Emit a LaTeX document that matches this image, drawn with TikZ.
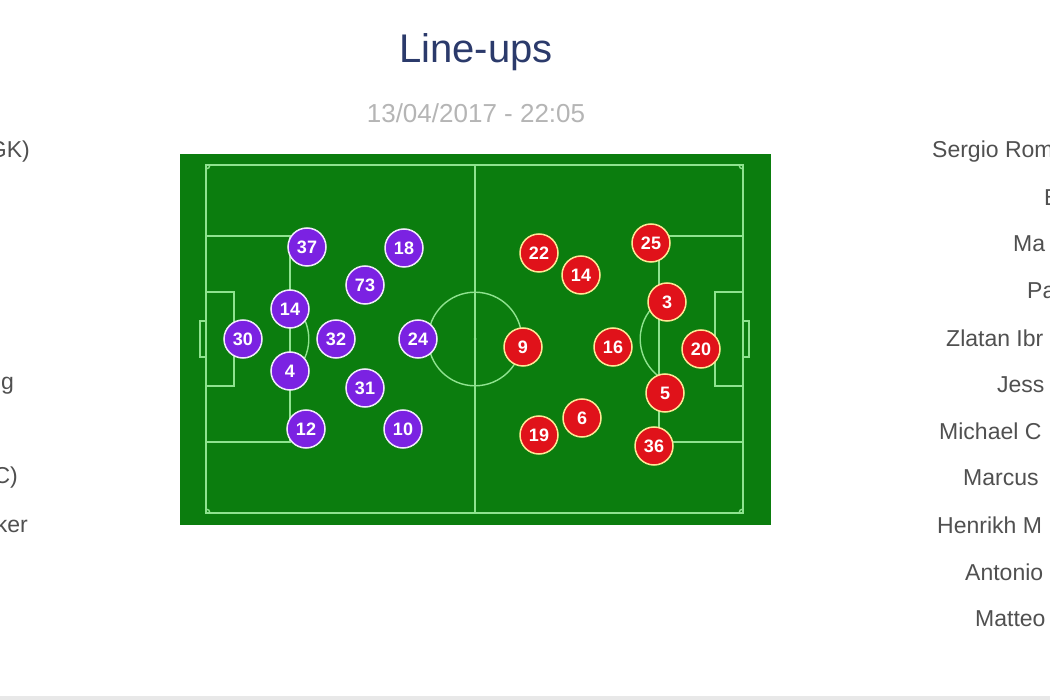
\documentclass[tikz,border=0pt]{standalone}
\usepackage{fontspec}
\setmainfont{Liberation Sans}
\definecolor{pitchgreen}{HTML}{0B7D0E}
\definecolor{pitchline}{HTML}{8FE38F}
\definecolor{homepurple}{HTML}{7B22E2}
\definecolor{awayred}{HTML}{E0121A}
\definecolor{titlenavy}{HTML}{2B3A6B}
\definecolor{dategrey}{HTML}{B5B5B5}
\definecolor{namegrey}{HTML}{505050}
\tikzset{
  line/.style={draw=pitchline,line width=1.4pt},
  player/.style={circle,minimum size=38pt,inner sep=0pt,line width=1.5pt,
    text=white,font=\fontsize{18}{18}\selectfont\bfseries},
  home/.style={player,fill=homepurple,draw=white!90!homepurple},
  away/.style={player,fill=awayred,draw=yellow!60!orange!40},
  lineup/.style={text=namegrey,font=\fontsize{23}{23}\selectfont,inner sep=0pt}
}
\begin{document}
\begin{tikzpicture}[x=1pt,y=-1pt]
  \useasboundingbox[fill=white] (0,0) rectangle (1050,700);
  \fill[gray!18] (0,696) rectangle (1050,700);

  \node[text=titlenavy,font=\fontsize{40}{40}\selectfont] (title) at (476,52) {Line-ups};
  \node[text=dategrey,font=\fontsize{26}{26}\selectfont] (date) at (476,113) {13/04/2017 - 22:05};

  %% pitch
  \fill[pitchgreen] (180,154) rectangle (771,525);
  \draw[line] (206,165) rectangle (743,513);
  \draw[line] (475,165) -- (475,513);
  \draw[line] (475,339) circle (46.8);
  \fill[pitchline] (475,339) circle (1.5);
  % left end
  \draw[line] (206,236) rectangle (290,442);
  \draw[line] (206,292) rectangle (234,386);
  \draw[line] (206,321) rectangle (200,357);
  \draw[line] (262,339) ++(-53.13:46.8) arc[start angle=-53.13,end angle=53.13,radius=46.8];
  % right end
  \draw[line] (743,236) rectangle (659,442);
  \draw[line] (743,292) rectangle (715,386);
  \draw[line] (743,321) rectangle (749,357);
  \draw[line] (687,339) ++(126.87:46.8) arc[start angle=126.87,end angle=233.13,radius=46.8];
  % corners
  \draw[line] (206,169) arc[start angle=90,end angle=0,radius=4];
  \draw[line] (206,509) arc[start angle=-90,end angle=0,radius=4];
  \draw[line] (743,169) arc[start angle=90,end angle=180,radius=4];
  \draw[line] (743,509) arc[start angle=270,end angle=180,radius=4];

  %% players
  \foreach \n/\x/\y in {37/307/247, 18/404/248, 73/365/285, 14/290/309, 30/243/339,
      32/336/339, 24/418/339, 4/290/371, 31/365/388, 12/306/429, 10/403/429}
    \node[home] (home\n) at (\x,\y) {\n};
  \foreach \n/\x/\y in {22/539/253, 14/581/275, 25/651/243, 3/667/302, 9/523/347,
      16/613/347, 20/701/349, 5/665/393, 6/582/418, 19/539/435, 36/654/446}
    \node[away] (away\n) at (\x,\y) {\n};

  %% names
  \node[lineup,anchor=east] (lgk) at (30,152) {GK)};
  \node[lineup,anchor=east] (lng) at (14,386) {g};
  \node[lineup,anchor=east] (lcap) at (18,478) {C)};
  \node[lineup,anchor=east] (lker) at (28,524) {ker};

  \node[lineup,anchor=west] (romero) at (932,152) {Sergio Rom};
  \node[lineup,anchor=west] (bailly) at (1044,198) {B};
  \node[lineup,anchor=west] (marcos) at (1013,244) {Ma};
  \node[lineup,anchor=west] (paul) at (1027,291) {Pa};
  \node[lineup,anchor=west] (zlatan) at (946,338) {Zlatan Ibr};
  \node[lineup,anchor=west] (jesse) at (997,385) {Jess};
  \node[lineup,anchor=west] (carrick) at (939,431) {Michael C};
  \node[lineup,anchor=west] (marcus) at (963,478) {Marcus};
  \node[lineup,anchor=west] (henrikh) at (937,525) {Henrikh M};
  \node[lineup,anchor=west] (antonio) at (965,572) {Antonio};
  \node[lineup,anchor=west] (matteo) at (975,619) {Matteo};
\end{tikzpicture}
\end{document}
